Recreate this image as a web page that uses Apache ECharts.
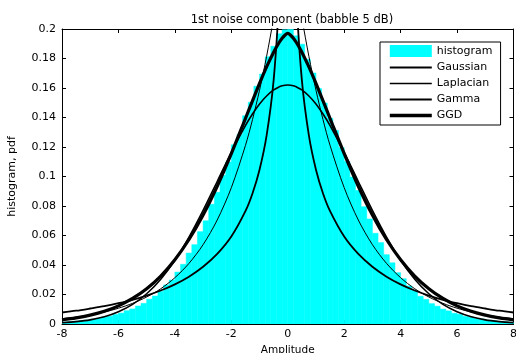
<!DOCTYPE html>
<html>
<head>
<meta charset="utf-8">
<script src="https://cdn.jsdelivr.net/npm/echarts@6/dist/echarts.min.js"></script>
<style>
  html, body { margin: 0; padding: 0; background: #fff; }
  #chart { width: 516px; height: 353px; }
</style>
</head>
<body>
<div id="chart"></div>
<script>
// histogram bins (centres) and heights
var binWidth = 0.2;
var histX = [
  -7.9, -7.7, -7.5, -7.3, -7.1, -6.9, -6.7, -6.5, -6.3, -6.1,
  -5.9, -5.7, -5.5, -5.3, -5.1, -4.9, -4.7, -4.5, -4.3, -4.1,
  -3.9, -3.7, -3.5, -3.3, -3.1, -2.9, -2.7, -2.5, -2.3, -2.1,
  -1.9, -1.7, -1.5, -1.3, -1.1, -0.9, -0.7, -0.5, -0.3, -0.1,
  0.1, 0.3, 0.5, 0.7, 0.9, 1.1, 1.3, 1.5, 1.7, 1.9,
  2.1, 2.3, 2.5, 2.7, 2.9, 3.1, 3.3, 3.5, 3.7, 3.9,
  4.1, 4.3, 4.5, 4.7, 4.9, 5.1, 5.3, 5.5, 5.7, 5.9,
  6.1, 6.3, 6.5, 6.7, 6.9, 7.1, 7.3, 7.5, 7.7, 7.9
];
var histY = [
  0.0013, 0.0016, 0.0019, 0.0023, 0.0027, 0.0034, 0.0039, 0.0047, 0.0053, 0.0065,
  0.0074, 0.0090, 0.0102, 0.0122, 0.0140, 0.0168, 0.0190, 0.0221, 0.0265, 0.0298,
  0.0352, 0.0405, 0.0481, 0.0538, 0.0626, 0.0700, 0.0812, 0.0893, 0.1008, 0.1098,
  0.1215, 0.1284, 0.1412, 0.1503, 0.1612, 0.1695, 0.1812, 0.1883, 0.1968, 0.1995,
  0.1998, 0.1954, 0.1897, 0.1795, 0.1702, 0.1596, 0.1498, 0.1395, 0.1312, 0.1196,
  0.1102, 0.0996, 0.0905, 0.0795, 0.0712, 0.0615, 0.0552, 0.0470, 0.0415, 0.0348,
  0.0307, 0.0258, 0.0226, 0.0188, 0.0167, 0.0138, 0.0121, 0.0101, 0.0089, 0.0073,
  0.0066, 0.0052, 0.0046, 0.0038, 0.0034, 0.0026, 0.0024, 0.0018, 0.0016, 0.0012
];

// x positions where the fitted pdf curves were read
var curveX = [
  -8, -7.5, -7, -6.5, -6, -5.5, -5, -4.5, -4, -3.5, -3, -2.5, -2, -1.5, -1.25, -1, -0.75, -0.5, -0.3, -0.2, -0.1,
  0,
  0.1, 0.2, 0.3, 0.5, 0.75, 1, 1.25, 1.5, 2, 2.5, 3, 3.5, 4, 4.5, 5, 5.5, 6, 6.5, 7, 7.5, 8
];
var gaussY = [
  0.0008, 0.0016, 0.0028, 0.0049, 0.0083, 0.0133, 0.0205, 0.0304, 0.0432, 0.0589, 0.0770, 0.0966, 0.1164, 0.1345, 0.1424, 0.1492, 0.1546, 0.1587, 0.1608, 0.1615, 0.1619,
  0.1620,
  0.1619, 0.1615, 0.1608, 0.1587, 0.1546, 0.1492, 0.1424, 0.1345, 0.1164, 0.0966, 0.0770, 0.0589, 0.0432, 0.0304, 0.0205, 0.0133, 0.0083, 0.0049, 0.0028, 0.0016, 0.0008
];
var laplaceY = [
  0.0036, 0.0047, 0.0062, 0.0081, 0.0107, 0.0140, 0.0183, 0.0239, 0.0314, 0.0411, 0.0538, 0.0705, 0.0924, 0.1210, 0.1385, 0.1585, 0.1814, 0.2076, 0.2313, 0.2441, 0.2577,
  0.2720,
  0.2577, 0.2441, 0.2313, 0.2076, 0.1814, 0.1585, 0.1385, 0.1210, 0.0924, 0.0705, 0.0538, 0.0411, 0.0314, 0.0239, 0.0183, 0.0140, 0.0107, 0.0081, 0.0062, 0.0047, 0.0036
];
var gammaY = [
  0.0078, 0.0090, 0.0105, 0.0121, 0.0141, 0.0164, 0.0193, 0.0227, 0.0269, 0.0321, 0.0388, 0.0475, 0.0593, 0.0765, 0.0885, 0.1046, 0.1277, 0.1653, 0.2231, 0.2793, 0.4040,
  null,
  0.4040, 0.2793, 0.2231, 0.1653, 0.1277, 0.1046, 0.0885, 0.0765, 0.0593, 0.0475, 0.0388, 0.0321, 0.0269, 0.0227, 0.0193, 0.0164, 0.0141, 0.0121, 0.0105, 0.0090, 0.0078
];
var ggdY = [
  0.0028, 0.0041, 0.0060, 0.0086, 0.0123, 0.0173, 0.0239, 0.0325, 0.0436, 0.0573, 0.0739, 0.0934, 0.1155, 0.1393, 0.1513, 0.1631, 0.1743, 0.1843, 0.1910, 0.1937, 0.1958,
  0.1970,
  0.1958, 0.1937, 0.1910, 0.1843, 0.1743, 0.1631, 0.1513, 0.1393, 0.1155, 0.0934, 0.0739, 0.0573, 0.0436, 0.0325, 0.0239, 0.0173, 0.0123, 0.0086, 0.0060, 0.0041, 0.0028
];

var lineWidths = { Gaussian: 1.6, Laplacian: 1, Gamma: 1.8, GGD: 3.2 };

function pairs(xs, ys) {
  var out = [];
  for (var i = 0; i < xs.length; i++) out.push([xs[i], ys[i]]);
  return out;
}

var font = 'DejaVu Sans';
var chart = echarts.init(document.getElementById('chart'));

function lineSeries(name, ys) {
  return {
    name: name,
    type: 'line',
    data: pairs(curveX, ys),
    showSymbol: false,
    symbol: 'none',
    smooth: 0.3,
    connectNulls: false,
    clip: true,
    lineStyle: { color: '#000', width: lineWidths[name] },
    itemStyle: { color: 'rgba(0,0,0,0)' },
    emphasis: { disabled: true },
    z: 3
  };
}

function legendLine(name) {
  return {
    name: name,
    lineStyle: { color: '#000', width: lineWidths[name] + 0.4 },
    itemStyle: { color: 'rgba(0,0,0,0)', borderWidth: 0 }
  };
}

var option = {
  animation: false,
  backgroundColor: '#fff',
  textStyle: { fontFamily: font },
  title: {
    text: '1st noise component (babble 5 dB)',
    left: 287,
    top: 9,
    textAlign: 'center',
    textStyle: { fontSize: 11.5, fontWeight: 'normal', color: '#000', fontFamily: font }
  },
  legend: {
    orient: 'vertical',
    left: 380,
    top: 42,
    padding: [3, 8, 4, 8],
    itemWidth: 42,
    itemHeight: 12,
    itemGap: 5,
    backgroundColor: '#fff',
    borderColor: '#000',
    borderWidth: 1,
    borderRadius: 0,
    textStyle: { fontSize: 11, color: '#000', fontFamily: font },
    data: [
      { name: 'histogram', icon: 'rect' },
      legendLine('Gaussian'),
      legendLine('Laplacian'),
      legendLine('Gamma'),
      legendLine('GGD')
    ]
  },
  grid: {
    left: 62,
    top: 29,
    right: 2.5,
    bottom: 29,
    outerBoundsMode: 'none'
  },
  xAxis: [
    {
      type: 'value',
      min: -8, max: 8, interval: 2,
      name: 'Amplitude',
      nameLocation: 'middle',
      nameGap: 13,
      nameTextStyle: { fontSize: 10.5, color: '#000', fontFamily: font },
      axisLine: { onZero: false, lineStyle: { color: '#000', width: 1 } },
      axisTick: { inside: true, length: 4, lineStyle: { color: '#000' } },
      axisLabel: { fontSize: 11, color: '#000', margin: 5, fontFamily: font },
      splitLine: { show: false }
    },
    {
      type: 'value',
      position: 'top',
      min: -8, max: 8, interval: 2,
      axisLine: { onZero: false, lineStyle: { color: '#000', width: 1 } },
      axisTick: { inside: true, length: 4, lineStyle: { color: '#000' } },
      axisLabel: { show: false },
      splitLine: { show: false }
    }
  ],
  yAxis: [
    {
      type: 'value',
      min: 0, max: 0.2, interval: 0.02,
      name: 'histogram, pdf',
      nameLocation: 'middle',
      nameGap: 44,
      nameTextStyle: { fontSize: 11, color: '#000', fontFamily: font },
      axisLine: { show: true, onZero: false, lineStyle: { color: '#000', width: 1 } },
      axisTick: { show: true, inside: true, length: 4, lineStyle: { color: '#000' } },
      axisLabel: {
        fontSize: 11, color: '#000', margin: 6, fontFamily: font,
        formatter: function (v) { return String(+v.toFixed(2)); }
      },
      splitLine: { show: false }
    },
    {
      type: 'value',
      position: 'right',
      min: 0, max: 0.2, interval: 0.02,
      axisLine: { show: true, onZero: false, lineStyle: { color: '#000', width: 1 } },
      axisTick: { show: true, inside: true, length: 4, lineStyle: { color: '#000' } },
      axisLabel: { show: false },
      splitLine: { show: false }
    }
  ],
  series: [
    {
      name: 'histogram',
      type: 'custom',
      data: pairs(histX, histY),
      encode: { x: 0, y: 1 },
      clip: true,
      itemStyle: { color: '#00ffff' },
      z: 1,
      renderItem: function (params, api) {
        var x = api.value(0), y = api.value(1);
        var p0 = api.coord([x - binWidth / 2, y]);
        var p1 = api.coord([x + binWidth / 2, 0]);
        return {
          type: 'rect',
          shape: { x: p0[0], y: p0[1], width: p1[0] - p0[0], height: p1[1] - p0[1] },
          style: { fill: '#00ffff', stroke: '#00ffff', lineWidth: 0.5 }
        };
      }
    },
    lineSeries('Gaussian', gaussY),
    lineSeries('Laplacian', laplaceY),
    lineSeries('Gamma', gammaY),
    lineSeries('GGD', ggdY)
  ]
};

chart.setOption(option);
</script>
</body>
</html>
